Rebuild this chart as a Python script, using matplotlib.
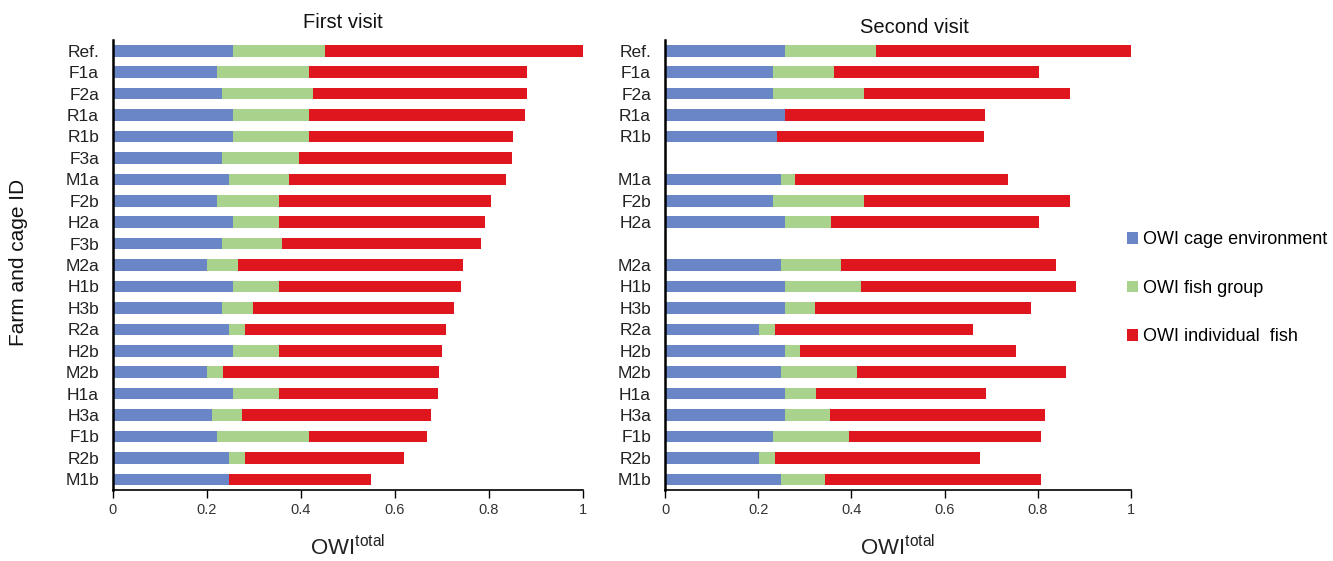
import matplotlib.pyplot as plt
import numpy as np
from matplotlib.patches import Patch

# OWI components per farm/cage, listed top to bottom
first_ids = ["Ref.", "F1a", "F2a", "R1a", "R1b", "F3a", "M1a", "F2b", "H2a", "F3b",
             "M2a", "H1b", "H3b", "R2a", "H2b", "M2b", "H1a", "H3a", "F1b", "R2b", "M1b"]
first_cage = [0.255, 0.221, 0.232, 0.255, 0.255, 0.232, 0.246, 0.221, 0.255, 0.232,
              0.200, 0.255, 0.232, 0.246, 0.255, 0.200, 0.255, 0.210, 0.221, 0.246, 0.246]
first_group = [0.197, 0.197, 0.194, 0.163, 0.163, 0.163, 0.128, 0.132, 0.098, 0.128,
               0.066, 0.098, 0.066, 0.035, 0.098, 0.034, 0.098, 0.065, 0.197, 0.035, 0.0]
first_indiv = [0.548, 0.462, 0.454, 0.459, 0.434, 0.453, 0.462, 0.451, 0.439, 0.424,
               0.478, 0.387, 0.427, 0.427, 0.348, 0.459, 0.338, 0.401, 0.250, 0.339, 0.303]

# empty strings are blank rows separating groups of cages
second_ids = ["Ref.", "F1a", "F2a", "R1a", "R1b", "", "M1a", "F2b", "H2a", "",
              "M2a", "H1b", "H3b", "R2a", "H2b", "M2b", "H1a", "H3a", "F1b", "R2b", "M1b"]
second_cage = [0.258, 0.231, 0.231, 0.258, 0.241, 0.0, 0.249, 0.231, 0.258, 0.0,
               0.249, 0.258, 0.258, 0.202, 0.258, 0.249, 0.258, 0.258, 0.231, 0.202, 0.249]
second_group = [0.194, 0.132, 0.196, 0.0, 0.0, 0.0, 0.031, 0.196, 0.098, 0.0,
                0.128, 0.162, 0.063, 0.034, 0.032, 0.162, 0.065, 0.096, 0.164, 0.034, 0.095]
second_indiv = [0.548, 0.439, 0.442, 0.429, 0.443, 0.0, 0.457, 0.442, 0.446, 0.0,
                0.463, 0.463, 0.464, 0.426, 0.464, 0.450, 0.365, 0.461, 0.411, 0.441, 0.462]

series_names = ["OWI cage environment", "OWI fish group", "OWI individual  fish"]
colors = ["#6a86c6", "#a9d38c", "#e0161f"]

plt.rcParams["font.family"] = ["Liberation Sans", "DejaVu Sans"]
plt.rcParams["mathtext.default"] = "regular"

fig = plt.figure(figsize=(13.33, 5.61), dpi=100)
ax1 = fig.add_axes([113 / 1333, 71 / 561, 470 / 1333, 450 / 561])
ax2 = fig.add_axes([665 / 1333, 71 / 561, 466 / 1333, 450 / 561])


def draw_panel(ax, ids, cage, group, indiv, title, title_x, title_y):
    y = np.arange(len(ids))
    cage = np.array(cage)
    group = np.array(group)
    indiv = np.array(indiv)
    ax.barh(y, cage, height=0.54, color=colors[0], linewidth=0)
    ax.barh(y, group, left=cage, height=0.54, color=colors[1], linewidth=0)
    ax.barh(y, indiv, left=cage + group, height=0.54, color=colors[2], linewidth=0)
    ax.set_yticks(y)
    ax.set_yticklabels(ids, fontsize=12.5, color="#222222")
    ax.set_ylim(len(ids) - 0.5, -0.5)
    ax.set_xlim(0, 1)
    ax.set_xticks([0, 0.2, 0.4, 0.6, 0.8, 1.0])
    ax.set_xticklabels(["0", "0.2", "0.4", "0.6", "0.8", "1"], fontsize=10.5, color="#333333")
    ax.tick_params(axis="y", length=0, pad=10)
    ax.tick_params(axis="x", direction="out", length=6, width=1, pad=3)
    for side in ("top", "right"):
        ax.spines[side].set_visible(False)
    ax.spines["left"].set_linewidth(1.8)
    ax.spines["bottom"].set_linewidth(1.2)
    ax.set_xlabel(r"OWI$^{total}$", fontsize=16, color="#222222")
    ax.xaxis.set_label_coords(0.5, -58 / 450)
    ax.xaxis.label.set_va("center")
    ax.text(title_x, title_y, title, transform=ax.transAxes, ha="center",
            va="center", fontsize=14.5, color="#111111")


draw_panel(ax1, first_ids, first_cage, first_group, first_indiv,
           "First visit", 0.49, 1.04)
draw_panel(ax2, second_ids, second_cage, second_group, second_indiv,
           "Second visit", 0.536, 1.027)

fig.text(19 / 1333, 1 - 262 / 561, "Farm and cage ID", rotation=90,
         ha="center", va="center", fontsize=15, color="#111111")

handles = [Patch(facecolor=c, edgecolor="none") for c in colors]
fig.legend(handles, series_names, loc="upper left",
           bbox_to_anchor=(1120 / 1333, 1 - 224 / 561), frameon=False,
           fontsize=13, handlelength=0.6, handleheight=0.6, handletextpad=0.25,
           labelspacing=1.75, borderaxespad=0)

fig.savefig("out.png", dpi=100)
